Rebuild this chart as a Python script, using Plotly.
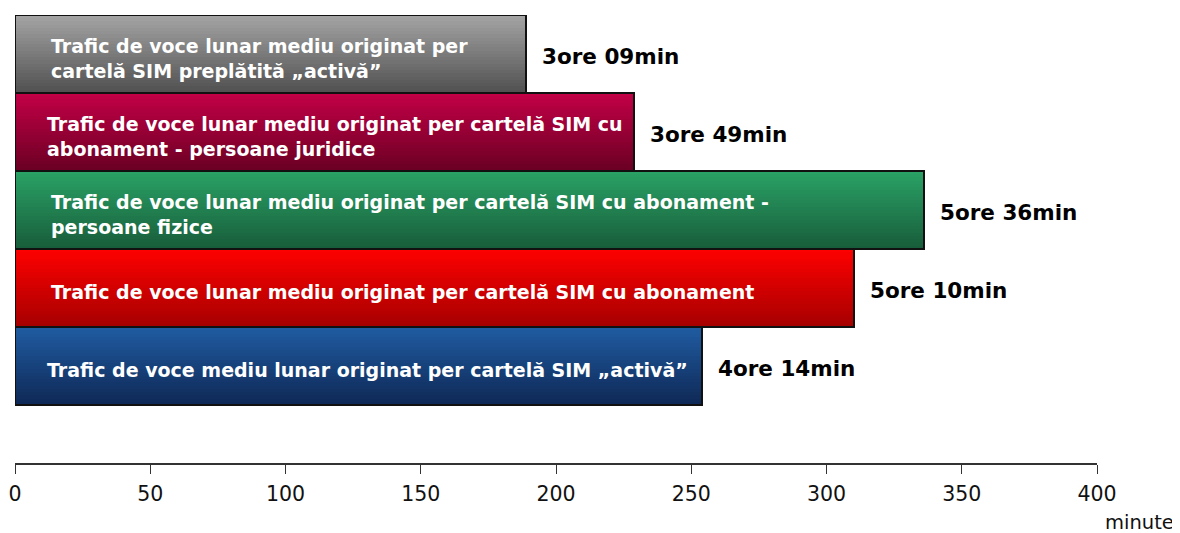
import plotly.graph_objects as go

# ---- data ----
labels = [
    "Trafic de voce lunar mediu originat per<br>cartelă SIM preplătită „activă”",
    "Trafic de voce lunar mediu originat per cartelă SIM cu<br>abonament - persoane juridice",
    "Trafic de voce lunar mediu originat per cartelă SIM cu abonament -<br>persoane fizice",
    "Trafic de voce lunar mediu originat per cartelă SIM cu abonament",
    "Trafic de voce mediu lunar originat per cartelă SIM „activă”",
]
minutes = [189, 229, 336, 310, 254]
top_colors = [(165, 165, 165), (195, 0, 70), (42, 162, 102), (255, 0, 0), (32, 92, 162)]
bottom_colors = [(80, 80, 80), (105, 0, 35), (24, 92, 58), (165, 0, 0), (14, 40, 85)]
tick_vals = [0, 50, 100, 150, 200, 250, 300, 350, 400]

n = len(minutes)
pos = [n - 1 - i for i in range(n)]  # first item on top


def fmt(m):
    return f"{m // 60}ore {m % 60:02d}min"


fig = go.Figure()

# gradient via horizontal bands
N = 24
for k in range(N):
    t = (k + 0.5) / N
    cols = []
    for tc, bc in zip(top_colors, bottom_colors):
        c = tuple(round(tc[j] + (bc[j] - tc[j]) * t) for j in range(3))
        cols.append(f"rgb{c}")
    fig.add_trace(go.Bar(
        x=minutes, y=pos, orientation="h",
        width=1.0 / N + 0.002, offset=0.5 - (k + 1) / N,
        marker=dict(color=cols, line=dict(width=0)),
        hoverinfo="skip", showlegend=False,
    ))

# outline
fig.add_trace(go.Bar(
    x=minutes, y=pos, orientation="h", width=1.0,
    marker=dict(color="rgba(0,0,0,0)", line=dict(color="#111111", width=2)),
    showlegend=False,
))

annotations = []
for i, (lab, m, p) in enumerate(zip(labels, minutes, pos)):
    annotations.append(dict(
        x=0, y=p, xref="x", yref="y", xanchor="left", yanchor="middle",
        xshift=30 if i in (1, 4) else 34, yshift=-4,
        text=f"<b>{lab}</b>", showarrow=False, align="left",
        font=dict(family="DejaVu Sans", size=19, color="white"),
    ))
    annotations.append(dict(
        x=m, y=p, xref="x", yref="y", xanchor="left", yanchor="middle",
        xshift=14, yshift=-2,
        text=f"<b>{fmt(m)}</b>", showarrow=False,
        font=dict(family="DejaVu Sans", size=21.5, color="black"),
    ))
annotations.append(dict(
    x=1, y=0, xref="paper", yref="paper", xanchor="left", yanchor="top",
    xshift=6, yshift=-46, text="minute", showarrow=False,
    font=dict(family="DejaVu Sans", size=19.5, color="#111111"),
))

fig.update_layout(
    width=1172, height=525,
    margin=dict(l=7, r=83, t=7, b=70, autoexpand=False),
    paper_bgcolor="white", plot_bgcolor="white",
    barmode="overlay", bargap=0,
    annotations=annotations,
    xaxis=dict(
        range=[0, 400], tickvals=tick_vals, ticks="outside", ticklen=9,
        tickcolor="#333333", showline=True, linecolor="#333333", linewidth=1.5,
        showgrid=False, zeroline=False, automargin=False, ticklabelstandoff=3,
        tickfont=dict(family="DejaVu Sans", size=20.5, color="#111111"),
    ),
    yaxis=dict(
        range=[-1.24, 4.5], showticklabels=False, showgrid=False,
        zeroline=False, showline=False, ticks="", automargin=False,
    ),
)

fig.write_html("out.html")
